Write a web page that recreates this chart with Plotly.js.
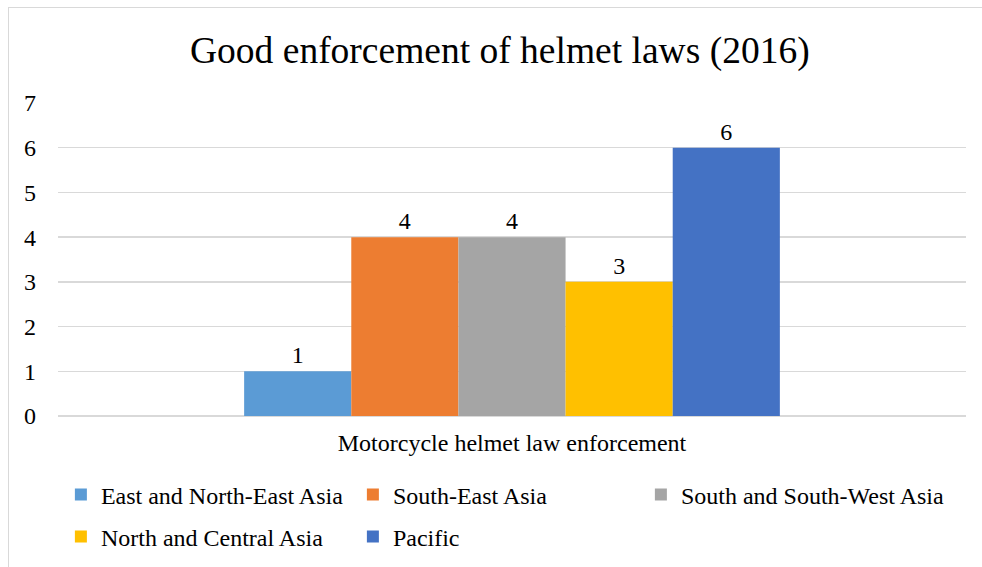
<!DOCTYPE html>
<html>
<head>
<meta charset="utf-8">
<script src="https://cdn.plot.ly/plotly-3.0.1.min.js"></script>
<style>
html,body{margin:0;padding:0;background:#fff;}
#wrap{position:relative;width:982px;height:567px;overflow:hidden;}
#chart{position:absolute;left:0;top:0;width:982px;height:567px;}
#frame{position:absolute;left:8px;top:7px;width:990px;height:600px;border:1.5px solid #d9d9d9;pointer-events:none;}
</style>
</head>
<body>
<div id="wrap"><div id="chart"></div><div id="frame"></div></div>
<script>
const categories = ["Motorcycle helmet law enforcement"];
const seriesNames = ["East and North-East Asia", "South-East Asia", "South and South-West Asia", "North and Central Asia", "Pacific"];
const seriesValues = [[1], [4], [4], [3], [6]];
const seriesColors = ["#5B9BD5", "#ED7D31", "#A5A5A5", "#FFC000", "#4472C4"];
const legendGroups = ["legend", "legend", "legend3", "legend2", "legend2"];

const font = "'Liberation Serif', 'Times New Roman', serif";

const traces = seriesNames.map((name, i) => ({
  type: "bar",
  name: name,
  x: categories,
  y: seriesValues[i],
  marker: {color: seriesColors[i]},
  text: seriesValues[i].map(String),
  textposition: "outside",
  textfont: {family: font, size: 24, color: "#000"},
  cliponaxis: false,
  legend: legendGroups[i],
  hoverinfo: "none"
}));

const legendCommon = {
  orientation: "h",
  xref: "container", yref: "container",
  xanchor: "left", yanchor: "middle",
  entrywidth: 247, entrywidthmode: "pixels",
  font: {family: font, size: 24, color: "#000"},
  bgcolor: "rgba(0,0,0,0)",
  traceorder: "normal"
};

const layout = {
  width: 982, height: 567,
  paper_bgcolor: "rgba(0,0,0,0)",
  plot_bgcolor: "#fff",
  margin: {l: 58, r: 16, t: 103, b: 151},
  title: {text: "Good enforcement of helmet laws (2016)", font: {family: font, size: 37.5, color: "#000"},
          x: 0.509, xanchor: "center", y: 0.912, yanchor: "middle", xref: "container", yref: "container"},
  barmode: "group",
  bargap: 0.41,
  bargroupgap: 0,
  xaxis: {type: "category", showgrid: false, showline: false, zeroline: false, ticks: "",
          tickfont: {family: font, size: 24, color: "#000"}, ticklabelstandoff: 10},
  yaxis: {range: [0, 7], dtick: 1, showgrid: true, gridcolor: "#d9d9d9", gridwidth: 1.5,
          zeroline: true, zerolinecolor: "#d9d9d9", zerolinewidth: 1.5, showline: false, ticks: "",
          tickfont: {family: font, size: 24, color: "#000"}, ticklabelstandoff: 21, fixedrange: true},
  legend: Object.assign({}, legendCommon, {x: 0.062, y: 1 - 495/567}),
  legend3: Object.assign({}, legendCommon, {x: 0.062 + 580/982, y: 1 - 495/567, entrywidth: 0}),
  legend2: Object.assign({}, legendCommon, {x: 0.062, y: 1 - 537/567}),
  showlegend: true
};

Plotly.newPlot("chart", traces, layout, {staticPlot: true, displayModeBar: false});
</script>
</body>
</html>
